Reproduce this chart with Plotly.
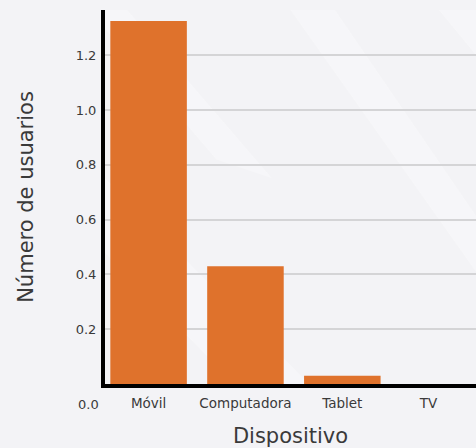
import plotly.graph_objects as go

dispositivos = ["Móvil", "Computadora", "Tablet", "TV"]
x_ticktext = ["Móvil", "Computadora", "Tablet", "TV\u00a0\u00a0\u00a0\u00a0\u00a0"]
usuarios = [1.325, 0.43, 0.03, 0.0]
y_ticks = [0.2, 0.4, 0.6, 0.8, 1.0, 1.2]
y_ticktext = ["0.2", "0.4", "0.6", "0.8", "1.0", "1.2"]

FONT = "DejaVu Sans"
TXT = "#3a3a3a"
BG = "#f3f3f6"

fig = go.Figure(
    data=[
        go.Bar(x=dispositivos, y=usuarios, marker=dict(color="#DF722C", line=dict(width=0)))
    ]
)

# faint diagonal sheen in the background
sheen = [
    "M 0 0.95 L 0 1 L 0.06 1 L 0.45 0.55 L 0.3 0.6 Z",
    "M 0.5 1 L 0.62 1 L 1 0.45 L 1 0.3 Z",
    "M 0.9 1 L 1 1 L 1 0.88 Z",
    "M 0 0.55 L 0 0.35 L 0.35 0 L 0.55 0 Z",
]
for p in sheen:
    fig.add_shape(type="path", path=p, xref="paper", yref="paper",
                  fillcolor="rgba(255,255,255,0.3)", line=dict(width=0), layer="below")

fig.add_annotation(text="0.0", x=0, y=0, xref="paper", yref="y", xanchor="right",
                   yanchor="middle", xshift=-4, yshift=-20, showarrow=False,
                   font=dict(family=FONT, size=13, color=TXT))

fig.update_layout(
    width=476, height=448,
    margin=dict(l=105, r=0, t=10, b=64),
    paper_bgcolor=BG,
    plot_bgcolor="rgba(0,0,0,0)",
    bargap=0.21,
    showlegend=False,
    font=dict(family=FONT, color=TXT, size=13),
    xaxis=dict(
        title=dict(text="Dispositivo", font=dict(size=21, color=TXT), standoff=19),
        range=[-0.45, 3.38], automargin=False,
        tickvals=dispositivos, ticktext=x_ticktext,
        showline=True, linecolor="black", linewidth=4,
        showgrid=False, ticks="", ticklabelstandoff=4,
        tickfont=dict(size=13.5, color=TXT),
    ),
    yaxis=dict(
        title=dict(text="Número de usuarios", font=dict(size=21, color=TXT), standoff=37),
        range=[0, 1.365], automargin=False,
        tickvals=y_ticks, ticktext=y_ticktext,
        showline=True, linecolor="black", linewidth=4,
        showgrid=True, gridcolor="#d4d4d6", gridwidth=1.5,
        zeroline=False, ticks="", ticklabelstandoff=2,
        tickfont=dict(size=13, color=TXT),
    ),
)

fig.write_html(
    "out.html",
    config={"displayModeBar": False},
    post_script="document.body.style.margin='0';document.body.style.background='%s';" % BG,
)
